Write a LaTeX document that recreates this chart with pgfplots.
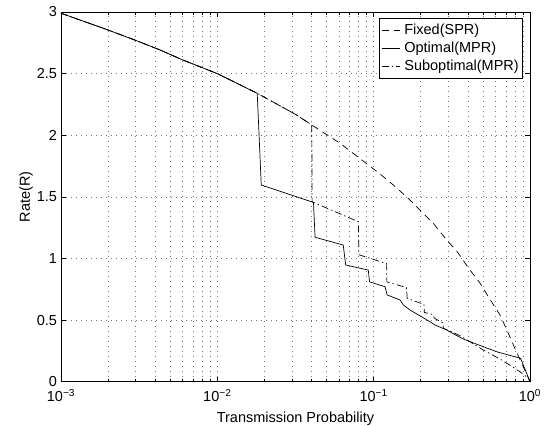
\documentclass[border=0pt]{standalone}
\usepackage{fontspec}
\setmainfont{Liberation Sans}
\usepackage{pgfplots}
\pgfplotsset{compat=1.18}
\newcommand{\F}{\fontsize{14.5bp}{16bp}\selectfont}
\begin{document}
\begin{tikzpicture}
\path[use as bounding box] (-61bp,-44.3bp) rectangle (491bp,381.7bp);
\begin{axis}[
 at={(0,0)}, anchor=south west,
 scale only axis, width=469bp, height=369.7bp,
 xmode=log, xmin=1e-3, xmax=1, ymin=0, ymax=3,
 xtick={0.001,0.01,0.1,1},
 xticklabels={10\textsuperscript{−3},10\textsuperscript{−2},10\textsuperscript{−1},10\textsuperscript{0}},
 ytick={0,0.5,1,1.5,2,2.5,3},
 yticklabels={0,0.5,1,1.5,2,2.5,3},
 tick align=inside,
 major tick length=5bp, minor tick length=3bp,
 grid=both,
 major grid style={black!55, dash pattern=on 1bp off 4bp, line width=0.5bp},
 minor grid style={black!55, dash pattern=on 1bp off 4bp, line width=0.5bp},
 axis line style={line width=0.7bp},
 every tick/.style={black, line width=0.5bp},
 tick label style={font=\F},
 yticklabel style={xshift=-0.5bp},
 xticklabel style={yshift=-4bp},
 label style={font=\F},
 xlabel={Transmission Probability},
 ylabel={Rate(R)},
 xlabel style={at={(axis description cs:0.5,0)}, anchor=base, yshift=-40.5bp},
 ylabel style={at={(axis description cs:-0.0661,0.5)}, anchor=base},
 every axis plot/.append style={line width=0.7bp, black},
 legend cell align=left,
 legend image code/.code={\draw[#1] (0bp,0bp) -- (18bp,0bp);},
 legend style={at={(0.98507,0.98377)}, anchor=north east, font=\F, draw=black, line width=0.5bp, fill=white, inner xsep=2bp, inner ysep=4bp, row sep=2bp, column sep=2bp},
]
\addplot[dash pattern=on 7bp off 5bp] coordinates {
(0.001,2.99) (0.002,2.854) (0.003,2.77) (0.0043,2.692) (0.006,2.611) (0.01,2.50)
(0.018,2.34) (0.0322,2.164) (0.0402,2.083) (0.0609,1.935) (0.1098,1.686)
(0.1335,1.596) (0.1666,1.488) (0.1979,1.392) (0.2407,1.285) (0.293,1.150)
(0.34,1.06) (0.413,0.906) (0.479,0.80) (0.541,0.69) (0.643,0.541) (0.727,0.393)
(0.80,0.271) (0.885,0.149) (0.99,0.014) (1.0,0)
};
\addlegendentry{Fixed(SPR)}
\addplot[solid] coordinates {
(0.001,2.99) (0.002,2.854) (0.003,2.77) (0.0043,2.692) (0.006,2.611) (0.01,2.50)
(0.018,2.34) (0.0191,1.596) (0.0412,1.455) (0.0422,1.172) (0.0639,1.109)
(0.0662,0.947) (0.0924,0.906) (0.0941,0.81) (0.1182,0.771) (0.122,0.704)
(0.1474,0.663) (0.155,0.622) (0.1708,0.582) (0.229,0.487) (0.247,0.46)
(0.293,0.42) (0.366,0.352) (0.413,0.325) (0.612,0.243) (0.871,0.19) (1.0,0)
};
\addlegendentry{Optimal(MPR)}
\addplot[dash pattern=on 7bp off 3bp on 1.5bp off 3bp] coordinates {
(0.001,2.99) (0.002,2.854) (0.003,2.77) (0.0043,2.692) (0.006,2.611) (0.01,2.50)
(0.018,2.34) (0.0322,2.164) (0.0402,2.083) (0.0404,1.46) (0.0798,1.298)
(0.0805,1.03) (0.121,0.958) (0.1215,0.81) (0.162,0.764) (0.164,0.675)
(0.2008,0.636) (0.2095,0.63) (0.211,0.562) (0.2406,0.544) (0.244,0.516)
(0.2777,0.476) (0.279,0.433) (0.3157,0.406) (0.3657,0.365) (0.5028,0.257)
(0.659,0.176) (0.863,0.081) (0.975,0.028) (1.0,0)
};
\addlegendentry{Suboptimal(MPR)}
\end{axis}
\end{tikzpicture}
\end{document}
